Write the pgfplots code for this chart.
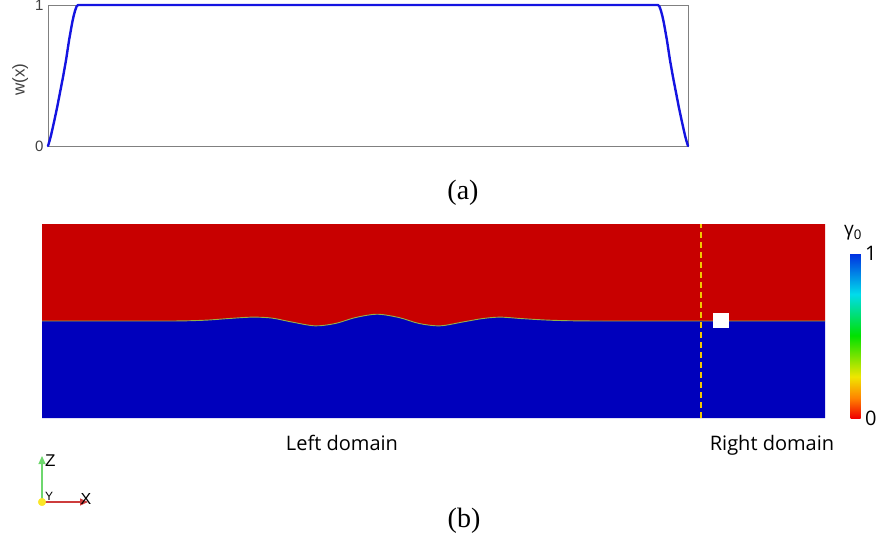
\documentclass[border=0pt]{standalone}
\usepackage{fontspec}
\setmainfont{Liberation Serif}
\newfontfamily\arialfont{Liberation Sans}
\newfontfamily\osans{Open Sans}
\usepackage{pgfplots}
\pgfplotsset{compat=1.18}
\usepackage{pgfplotstable}
\usepgfplotslibrary{fillbetween}
\usetikzlibrary{arrows.meta}

\definecolor{curveblue}{RGB}{20,20,225}
\definecolor{boxgray}{RGB}{128,128,128}
\definecolor{fieldred}{RGB}{200,0,0}
\definecolor{fieldblue}{RGB}{0,0,188}
\definecolor{ifacecol}{RGB}{150,175,70}
\definecolor{cutyellow}{RGB}{240,200,0}
\definecolor{triadgreen}{RGB}{110,215,110}
\definecolor{triadred}{RGB}{205,60,60}
\definecolor{triadyellow}{RGB}{250,230,40}

\pgfplotsset{colormap={gammamap}{
  rgb255(0cm)=(240,0,0)
  rgb255(1.2cm)=(255,130,0)
  rgb255(2.5cm)=(240,230,0)
  rgb255(5cm)=(0,225,0)
  rgb255(7.5cm)=(0,220,235)
  rgb255(10cm)=(0,45,225)}}

% weighting function w(x)
\pgfplotstableread{
x      w
0      0
0.235  0.035
0.47   0.075
0.94   0.17
1.41   0.27
1.88   0.38
2.35   0.49
2.82   0.61
3.29   0.75
3.76   0.87
3.995  0.92
4.23   0.96
4.465  0.99
4.70   1
95.30  1
95.535 0.99
95.77  0.96
96.005 0.92
96.24  0.87
96.71  0.75
97.18  0.61
97.65  0.49
98.12  0.38
98.59  0.27
99.06  0.17
99.53  0.075
99.765 0.035
100    0
}\weighttable

% initial interface height between the two phases
\pgfplotstableread{
x      z
0      2.00
1      2.00
2      2.00
2.6    2.00
3.0    2.005
3.4    2.02
3.8    2.05
4.3    2.08
4.7    2.06
5.1    1.98
5.58   1.90
6.0    1.95
6.4    2.07
6.85   2.14
7.3    2.07
7.7    1.95
8.13   1.90
8.6    1.98
9.0    2.05
9.36   2.08
9.8    2.05
10.3   2.02
10.8   2.005
11.5   2.00
13     2.00
16     2.00
}\ifacetable

\begin{document}
\begin{tikzpicture}[x=1pt,y=1pt]

% (a) weighting function
\begin{axis}[
  scale only axis, width=640pt, height=141pt,
  at={(48pt,393pt)}, anchor=south west,
  xmin=0, xmax=100, ymin=0, ymax=1,
  xtick=\empty, ytick={0,1},
  axis line style={boxgray, line width=0.8pt},
  major tick length=0pt,
  /pgf/number format/assume math mode=true,
  yticklabel style={font=\arialfont\fontsize{15}{15}\selectfont, text=black!75, xshift=-1pt},
  ylabel={w(x)},
  ylabel style={font=\arialfont\fontsize{17}{17}\selectfont, text=black!75, at={(ticklabel cs:0.5)}, xshift=-4pt},
  clip=false,
]
\addplot[curveblue, line width=2.4pt, line join=round, line cap=round] table[x=x, y=w] {\weighttable};
\end{axis}
\node[font=\fontsize{28}{28}\selectfont] at (463,346) {(a)};

% (b) phase indicator field
\begin{axis}[
  scale only axis, width=783pt, height=194pt,
  at={(42pt,121pt)}, anchor=south west,
  xmin=0, xmax=16, ymin=0, ymax=4,
  axis line style={draw=none}, ticks=none,
  colormap name=gammamap,
  point meta min=0, point meta max=1,
  colorbar,
  colorbar style={
    scale only axis,
    at={(parent axis.north east)}, anchor=north west,
    xshift=17pt, yshift=-29pt,
    width=10pt, height=165pt,
    ytick={0,1},
    axis line style={draw=none},
    major tick length=0pt,
    /pgf/number format/assume math mode=true,
    yticklabel style={font=\osans\fontsize{20}{20}\selectfont, xshift=1pt},
  },
]
\addplot[name path=iface, draw=none, smooth] table[x=x, y=z] {\ifacetable};
\addplot[name path=topedge, draw=none] coordinates {(0,4) (16,4)};
\addplot[name path=botedge, draw=none] coordinates {(0,0) (16,0)};
\addplot[fieldred] fill between[of=iface and topedge];
\addplot[fieldblue] fill between[of=iface and botedge];
\addplot[ifacecol, line width=0.9pt, smooth] table[x=x, y=z] {\ifacetable};
% boundary between left and right domains
\addplot[cutyellow, line width=1.7pt, dash pattern=on 6pt off 4pt] coordinates {(13.47,0) (13.47,4)};
% probe location
\addplot[fill=white, draw=none] coordinates {(13.72,1.86) (14.04,1.86) (14.04,2.17) (13.72,2.17)} -- cycle;
\end{axis}
\node[font=\osans\fontsize{19}{19}\selectfont] at (853,306) {γ\textsubscript{0}};
\node[font=\osans\fontsize{20}{20}\selectfont, anchor=base] at (342,89) {Left domain};
\node[font=\osans\fontsize{20}{20}\selectfont, anchor=base] at (772,89) {Right domain};
\node[font=\fontsize{28}{28}\selectfont] at (464,18) {(b)};

% coordinate triad
\begin{axis}[
  scale only axis, width=60pt, height=60pt,
  at={(42pt,37pt)}, anchor=south west,
  xmin=0, xmax=60, ymin=0, ymax=60,
  hide axis, clip=false,
]
\addplot[triadgreen, line width=1.2pt, -{Triangle[length=8pt,width=7pt]}] coordinates {(0,0) (0,46)};
\addplot[triadred, line width=1.2pt, -{Triangle[length=8pt,width=7pt]}] coordinates {(0,0) (46,0)};
\addplot[only marks, mark=*, mark size=3.8pt, triadyellow, draw=triadyellow] coordinates {(0,0)};
\node[font=\arialfont\fontsize{17}{17}\selectfont, anchor=west, inner sep=1pt] at (axis cs:2,41) {Z};
\node[font=\arialfont\fontsize{12}{12}\selectfont, anchor=south west, inner sep=1pt] at (axis cs:2,0) {Y};
\node[font=\arialfont\fontsize{16}{16}\selectfont, inner sep=1pt] at (axis cs:44,3) {X};
\end{axis}

\pgfresetboundingbox
\path[use as bounding box] (0,0) rectangle (882,539);
\end{tikzpicture}
\end{document}
